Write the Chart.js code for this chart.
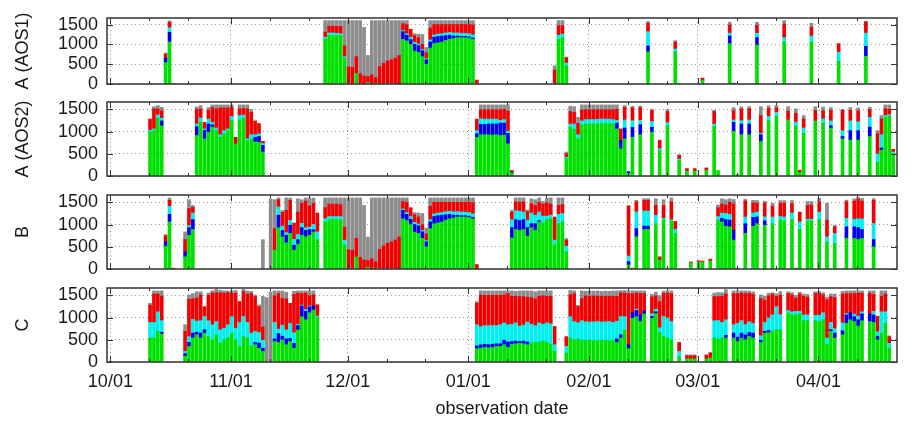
<!DOCTYPE html>
<html>
<head>
<meta charset="utf-8">
<script src="https://cdn.jsdelivr.net/npm/chart.js@4.4.0/dist/chart.umd.min.js"></script>
<style>
    body { margin: 0; background: #fff; }
    #wrap { position: relative; width: 924px; height: 421px; }
    #wrap canvas { position: absolute; left: 0; top: 0; }
</style>
</head>
<body>
<div id="wrap">
    <canvas id="panel-0" width="924" height="421"></canvas>
    <canvas id="panel-1" width="924" height="421"></canvas>
    <canvas id="panel-2" width="924" height="421"></canvas>
    <canvas id="panel-3" width="924" height="421"></canvas>
</div>
<script>
// ===================================
// DATA (day index 0 = 10/01, values per day)
// ===================================

const MONTH_DAYS = [0, 31, 61, 92, 123, 151, 182];
const MONTH_LABELS = ['10/01', '11/01', '12/01', '01/01', '02/01', '03/01', '04/01'];
const MINOR_DAYS = [10, 20, 41, 51, 71, 81, 102, 112, 133, 143, 161, 171, 192];
const Y_TICKS = [0, 500, 1000, 1500];
const SERIES_NAMES = ['green', 'blue', 'cyan', 'red', 'gray'];

// --- A (AOS1)
const A1_DAYS = [14,15,16,55,56,57,58,59,60,61,62,63,64,65,66,67,68,69,70,71,72,73,74,75,76,77,78,79,80,81,82,83,84,85,86,87,88,89,90,91,92,93,94,114,115,116,117,138,145,146,152,159,160,166,173,180,187,188,194,195];
const A1_GREEN = [540,1060,0, 1130,1230,1230,1220,1220,650,0,0,270,0,0,40,0,20,0,0,0,0,0,0,1130,1090,1000,830,800,690,500,910,1020,1040,1060,1100,1130,1150,1170,1170,1170,1160,1130,0, 0,1130,1170,460, 810,810,20,90,1020,0,985,1060,1060,575,20,700,15];
const A1_BLUE = [110,245,0, 0,0,0,0,0,0, 0,0,0,0,0,0,0,0,0,0,0,0,0, 20, 190,140,120,170,170,150,110,150,160,160,150,120,100,60,40,30,30,30,30, 0, 0,0,0,0, 150,0,0,0,190,20,185,0,0,0,0,250,0];
const A1_CYAN = [0,115,0, 50,60,60,60,50,40, 0,0,0,0,0,0,0,0,0,0,0,0,0,0, 30,40,60,50,40,30,30,50,60,60,60,70,70,80,80,80,80,80,80, 0, 0,100,90,70, 360,75,0,0,75,0,110,110,150,225,0,335,0];
const A1_RED = [100,140,20, 130,165,165,175,180,270, 430,420,420,260,200,150,230,140,440,520,580,610,650,700, 170,230,200,170,160,130,150,300,260,240,230,210,200,210,210,220,220,230,250, 100, 350,240,210,130, 210,170,0,50,200,0,200,340,220,210,0,280,0];
const A1_GRAY = [35,30,0, 290,145,145,145,150,640, 1170,1180,910,1340,1230,530,1370,1440,1160,1080,1020,990,950,880, 80,100,0,50,90,250,130,190,100,100,100,100,100,100,100,100,100,100,110, 0, 110,130,130,20, 50,40,0,15,75,0,75,90,100,15,0,20,0];

// --- A (AOS2)
const A2_DAYS = [10,11,12,13, 22,23,24,25,26,27,28,29,30,31,32,33,34,35,36,37,38,39, 94,95,96,97,98,99,100,101,102,103, 117,118,119,120,121,122,123,124,125,126,127,128,129,130,131,132,133,134, 136,139,141,142,143,146,148,150,153,155,156, 160,161,162,164,165,167,169,171,174,176,177,178,181,183,185,188,190,192,195,197,198,199,200,201];
const A2_GREEN = [990,1020,1300,1130,
    910,1210,835,985,1100,1020,870,950,1020,1250,720,1260,1300,800,835,770,760,540,
    870,930,930,930,920,930,910,920,725,60,
    390,1100,1050,835,1150,1170,1170,1170,1175,1180,1180,1180,1170,1060,610,835,60,870,
    930,985,575,20,1130,350,110,110,125,1110,125,
    1010,30,930,930,20,780,1250,1340,1260,1130,80,960,1240,1190,1080,835,810,810,890,310,580,1320,1350,500];
const A2_BLUE = [0,0,0,110,
    200,0,190,185,50,0,0,0,0,0,0,0,0,0,0,100,130,150,
    80,230,230,240,250,240,280,270,235,15,
    0,0,0,0,0,0,0,0,0,0,0,0,0,130,190,245,40,225,
    225,110,0,0,0,0,0,0,0,0,0,
    200,0,240,240,0,150,0,0,0,0,0,0,0,0,50,55,210,210,210,0,50,0,0,0];
const A2_CYAN = [40,40,75,60,
    60,95,35,110,60,60,60,70,40,90,0,100,70,40,95,60,60,40,
    70,130,120,110,110,110,60,80,50,10,
    30,70,120,95,90,100,100,100,100,100,100,100,100,60,0,180,0,150,
    100,130,40,0,70,30,0,0,0,60,0,
    50,0,75,90,0,30,90,90,0,80,0,120,0,95,110,130,220,200,220,190,300,40,30,40];
const A2_RED = [250,450,130,165,
    335,200,150,200,330,430,600,510,470,200,150,150,150,670,500,310,230,50,
    260,200,210,210,210,210,240,230,450,40,
    80,280,260,255,240,220,220,220,215,210,210,210,220,250,260,285,0,285,
    280,250,180,0,250,80,50,50,50,280,0,
    210,0,260,250,0,400,180,100,200,200,50,200,230,185,240,460,240,250,170,450,350,150,120,60];
const A2_GRAY = [0,50,80,80,
    50,80,0,60,60,90,70,70,70,60,0,90,80,90,70,0,0,0,
    0,110,110,110,110,110,110,100,140,0,
    40,120,130,135,120,110,110,110,110,110,110,110,110,100,0,40,0,40,
    40,30,15,0,50,20,10,10,10,30,0,
    70,0,50,50,0,200,60,60,100,100,0,80,90,80,60,20,60,60,60,70,80,90,100,0];

// --- B
const B_DAYS = [14,15,16,19,20,21,39,41,42,43,44,45,46,47,48,49,50,51,52,53,
    55,56,57,58,59,60,61,62,63,64,65,66,67,68,69,70,71,72,73,74,75,76,77,78,79,80,81,82,83,84,85,86,87,88,89,90,91,92,93,94,
    103,104,105,106,107,108,109,110,111,112,113,114,115,116,117,
    133,134,135,137,138,140,141,142,144,145,149,151,152,154,156,157,158,159,160,161,163,165,166,168,170,172,173,175,176,177,179,180,182,184,186,189,191,192,193,196];
const B_GREEN = [515,1060,0,275,760,890,0,0,425,930,725,590,800,425,560,760,725,760,835,665,
    1060,1110,1120,1120,1110,540, 0,0,270,0,0,40,0,20,0,0,0,0,0,0, 1130,1090,1000,830,800,690,500,910,1020,1040,1060,1100,1130,1150,1170,1170,1170,1160,1130, 0,
    700,890,870,890,740,930,870,1060,1040,1110,1130,540,1020,1060,390,
    90,0,725,890,890,1020,200,1100,1080,800,140,160,150,180,1100,1060,960,950,650,0,800,960,1020,985,1020,1100,1080,1110,20,890,1080,1080,1110,610,575,690,690,665,690,500];
const B_BLUE = [95,170,0,110,170,220,0,0,0,280,140,170,185,110,100,170,145,130,50,0,
    0,0,0,0,0,0, 0,0,0,0,0,0,0,0,0,0,0,0,0,20, 190,140,120,170,170,150,110,150,160,160,150,120,100,60,40,30,30,30,30, 0,
    230,220,220,220,190,90,150,30,0,0,0,0,0,0,0,
    75,0,185,75,75,0,0,0,0,0,0,0,0,0,0,80,150,150,225,0,220,200,150,100,0,0,0,0,0,0,0,0,0,0,0,260,260,265,200,165];
const B_CYAN = [0,180,0,0,50,150,0,0,0,185,100,60,110,130,120,100,60,50,120,170,
    70,70,60,60,70,110, 0,0,0,0,0,0,0,0,0,0,0,0,0,0, 30,40,60,50,40,30,30,50,60,60,60,70,70,80,80,80,80,80,80, 0,
    180,200,210,170,170,240,190,190,150,80,80,110,210,190,125,
    125,0,375,340,340,190,0,40,30,90,0,0,0,0,80,120,140,130,0,0,150,100,110,90,150,80,90,150,0,170,40,40,170,110,225,190,170,200,240,360];
const B_RED = [135,135,20,280,380,130,0,0,485,165,310,500,450,360,500,450,600,480,470,425,
    250,280,280,280,270,290, 430,420,420,260,200,150,230,140,440,520,580,610,650,700, 170,230,200,170,160,130,150,300,260,240,230,210,200,210,210,220,220,230,250, 100,
    170,200,200,230,190,210,220,220,270,300,250,520,200,200,135,
    1120,20,225,240,240,220,75,290,400,180,20,20,20,35,200,200,190,270,590,15,360,225,200,310,240,300,310,210,0,220,310,320,230,380,150,370,410,440,400,520];
const B_GRAY = [30,50,0,170,200,40,660,1580,650,40,40,280,50,15,300,80,70,180,120,0,
    220,140,140,140,150,660, 1170,1180,910,1340,1230,530,1370,1440,1160,1080,1020,990,950,880, 80,100,0,50,90,250,130,190,100,100,100,100,100,100,100,100,100,100,110, 0,
    40,90,100,90,40,110,130,100,60,100,140,0,170,150,35,
    20,0,35,40,40,150,0,130,90,0,0,10,10,10,60,120,120,80,100,0,40,60,60,40,70,60,60,70,0,0,90,80,80,380,30,40,50,40,60,40];

// --- C
const C_DAYS = [10,11,12,13,
    19,20,21,22,23,24,25,26,27,28,29,30,31,32,33,34,35,36,37,38,39,40,41,42,43,44,45,46,47,48,49,50,51,52,53,
    94,95,96,97,98,99,100,101,102,103,104,105,106,107,108,109,110,111,112,113,114,
    117,118,119,120,121,122,123,124,125,126,127,128,129,130,131,132,133,134,135,136,137,
    139,140,141,142,143,144, 146,148,149,150,153,154, 155,156,157,158,
    160,161,162,163,164,165, 167,168,169,170,171,172, 174,175,176,177,178,179,
    181,182,183,184,185,186, 188,189,190,191,192,193, 195,196,197,198,199,200];
const C_GREEN = [540,540,690,630,
    130,350,540,610,540,650,575,500,610,425,500,540,650,500,350,575,540,360,390,310,240,0,0,460,440,500,390,460,310,720,1020,950,1110,1170,1000,
    300,310,330,320,330,350,350,390,330,400,410,420,410,390,430,440,450,470,440,400,240,
    200,540,500,515,480,485,490,485,480,490,485,480,490,440,540,720,300,985,1020,910,1080,
    985,1090,660,575,540,500, 120,70,70,70,70,90, 540,515,540,540,
    540,460,540,500,575,540, 440,650,660,690,725,725, 1100,1060,1060,1080,930,930,
    930,910,950,400,690,540, 610,870,950,910,810,930, 910,890,500,650,870,310];
const C_BLUE = [0,0,0,40,
    60,90,110,60,110,75,0,0,0,0,0,0,0,0,0,0,0,0,50,115,70,0,0,60,200,80,130,70,110,100,240,190,130,90,0,
    60,75,70,70,70,60,60,100,120,60,60,40,60,60,0,0,0,0,0,0,0,
    0,0,0,0,0,0,0,0,0,0,0,0,0,80,75,0,90,130,140,150,70,
    40,40,0,0,0,0, 0,0,0,0,0,0, 0,0,0,60,
    110,100,110,110,90,110, 50,40,50,0,0,0, 0,0,0,0,0,0,
    0,0,0,0,40,110, 90,190,160,110,140,150, 170,170,80,0,0,0];
const C_CYAN = [350,350,440,260,
    50,130,310,250,280,300,355,335,300,300,260,300,370,260,540,450,350,290,250,240,180,0,0,370,100,250,200,340,240,30,20,40,20,0,30,
    480,410,420,430,420,410,430,390,390,390,410,350,360,450,420,380,430,380,440,460,150,
    150,480,410,370,450,420,410,420,430,410,420,430,400,400,410,300,0,0,30,0,0,
    60,60,110,450,450,410, 120,0,0,0,0,0, 390,420,350,350,
    190,310,280,230,240,220, 100,200,280,370,520,340, 60,70,80,60,130,130,
    120,140,160,140,160,100, 180,30,0,60,80,50, 0,80,100,480,260,110];
const C_RED = [390,640,400,550,
    450,840,460,520,580,220,570,720,650,830,790,720,530,790,470,560,640,890,780,580,300,0,0,600,800,600,700,450,860,700,260,370,230,250,260,
    480,710,680,680,680,680,660,630,700,630,600,660,640,560,600,600,600,640,600,620,410,
    220,490,630,360,500,580,580,580,570,580,570,570,590,560,530,530,1150,420,360,480,390,
    380,300,590,520,560,630, 190,70,70,70,80,110, 540,540,590,580,
    700,670,620,700,640,650, 840,500,500,470,230,440, 380,380,300,390,420,400,
    490,490,400,860,580,700, 650,450,430,460,520,420, 470,380,350,350,400,150];
const C_GRAY = [40,70,70,120,
    150,100,120,140,70,0,50,50,80,60,50,40,50,60,0,50,70,50,40,40,690,1450,1580,110,60,170,150,0,70,50,60,50,110,90,0,
    40,100,100,100,100,100,100,90,60,120,110,130,130,140,150,160,120,110,120,120,0,
    0,100,60,30,170,110,120,110,120,110,120,110,120,120,50,60,60,70,50,60,60,
    60,80,130,50,50,60, 20,20,20,20,15,15, 80,90,80,100,
    60,60,50,60,50,60, 80,90,60,30,60,80, 40,50,60,40,50,60,
    40,50,50,60,60,80, 60,60,60,60,50,50, 50,80,0,120,70,20];

// ===================================
// STYLE / LAYOUT
// ===================================

const COLORS = ['#00e000', '#0000f0', '#00eeee', '#f00000', '#8c8c8c'];
const TEXT = '#1a1a1a';
const FRAME = '#333333';
const GRID = '#9a9a9a';
const FONT = { family: "'Liberation Sans', Arial, sans-serif", size: 18, lineHeight: 1.2 };
const X_MIN = -0.87;
const X_MAX = 202.2;
const Y_MAX = 1665;
const BAR_SHIFT = 0.2;
const PLOT_LEFT = 107;
const PLOT_RIGHT = 897;
const PAGE_H = 421;

const PANELS = [
    { title: 'A (AOS1)', days: A1_DAYS, series: [A1_GREEN, A1_BLUE, A1_CYAN, A1_RED, A1_GRAY], top: 10, bottom: 84 },
    { title: 'A (AOS2)', days: A2_DAYS, series: [A2_GREEN, A2_BLUE, A2_CYAN, A2_RED, A2_GRAY], top: 102, bottom: 176 },
    { title: 'B', days: B_DAYS, series: [B_GREEN, B_BLUE, B_CYAN, B_RED, B_GRAY], top: 195, bottom: 269 },
    { title: 'C', days: C_DAYS, series: [C_GREEN, C_BLUE, C_CYAN, C_RED, C_GRAY], top: 288, bottom: 362 }
];

// frame box + inward tics, gnuplot style
const framePlugin = {
    id: 'frame',
    afterDraw(chart) {
        const { ctx, chartArea: a, scales: { x, y } } = chart;
        ctx.save();
        ctx.strokeStyle = FRAME;
        ctx.lineWidth = 1;
        ctx.beginPath();
        const xTic = (v, len) => {
            const px = Math.round(x.getPixelForValue(v)) + 0.5;
            ctx.moveTo(px, a.bottom); ctx.lineTo(px, a.bottom - len);
            ctx.moveTo(px, a.top); ctx.lineTo(px, a.top + len);
        };
        MONTH_DAYS.forEach(v => xTic(v, 6));
        MINOR_DAYS.forEach(v => xTic(v, 3));
        Y_TICKS.forEach(v => {
            const py = Math.round(y.getPixelForValue(v)) + 0.5;
            ctx.moveTo(a.left, py); ctx.lineTo(a.left + 6, py);
            ctx.moveTo(a.right, py); ctx.lineTo(a.right - 6, py);
        });
        ctx.stroke();
        ctx.lineWidth = 1.5;
        ctx.strokeRect(a.left, a.top, a.right - a.left, a.bottom - a.top);
        ctx.restore();
    }
};

function makePanel(canvas, panel, isLast) {
    const datasets = SERIES_NAMES.map((name, k) => ({
        label: name,
        data: panel.days
            .map((d, i) => ({ x: d + BAR_SHIFT, y: panel.series[k][i] }))
            .filter(p => p.y > 0),
        backgroundColor: COLORS[k],
        borderWidth: 0,
        barThickness: 3
    }));

    return new Chart(canvas, {
        type: 'bar',
        data: { datasets },
        options: {
            responsive: false,
            animation: false,
            layout: {
                padding: {
                    left: 0,
                    right: 924 - PLOT_RIGHT,
                    top: panel.top,
                    bottom: isLast ? 0 : PAGE_H - panel.bottom
                }
            },
            plugins: {
                legend: { display: false },
                tooltip: { enabled: false }
            },
            scales: {
                x: {
                    type: 'linear',
                    min: X_MIN,
                    max: X_MAX,
                    stacked: true,
                    offset: false,
                    afterBuildTicks: s => { s.ticks = MONTH_DAYS.map(v => ({ value: v })); },
                    afterFit: s => { s.height = isLast ? PAGE_H - panel.bottom : 0; },
                    grid: { offset: false, color: GRID, drawTicks: false },
                    border: { display: false, dash: [1, 3] },
                    ticks: {
                        display: isLast,
                        autoSkip: false,
                        maxRotation: 0,
                        padding: 9,
                        color: TEXT,
                        font: FONT,
                        callback: (v, i) => MONTH_LABELS[i]
                    },
                    title: {
                        display: isLast,
                        text: 'observation date',
                        color: TEXT,
                        font: FONT,
                        padding: { top: 0, bottom: 1 }
                    }
                },
                y: {
                    min: 0,
                    max: Y_MAX,
                    stacked: true,
                    afterBuildTicks: s => { s.ticks = Y_TICKS.map(v => ({ value: v })); },
                    afterFit: s => { s.width = PLOT_LEFT; },
                    grid: { color: GRID, drawTicks: false },
                    border: { display: false, dash: [1, 3] },
                    ticks: {
                        autoSkip: false,
                        padding: 9,
                        color: TEXT,
                        font: { ...FONT, lineHeight: 1 },
                        callback: v => String(v)
                    },
                    title: {
                        display: true,
                        text: panel.title,
                        color: TEXT,
                        font: FONT,
                        padding: { top: 12, bottom: 0 }
                    }
                }
            }
        },
        plugins: [framePlugin]
    });
}

PANELS.forEach((panel, i) => {
    makePanel(document.getElementById('panel-' + i), panel, i === PANELS.length - 1);
});
</script>
</body>
</html>
